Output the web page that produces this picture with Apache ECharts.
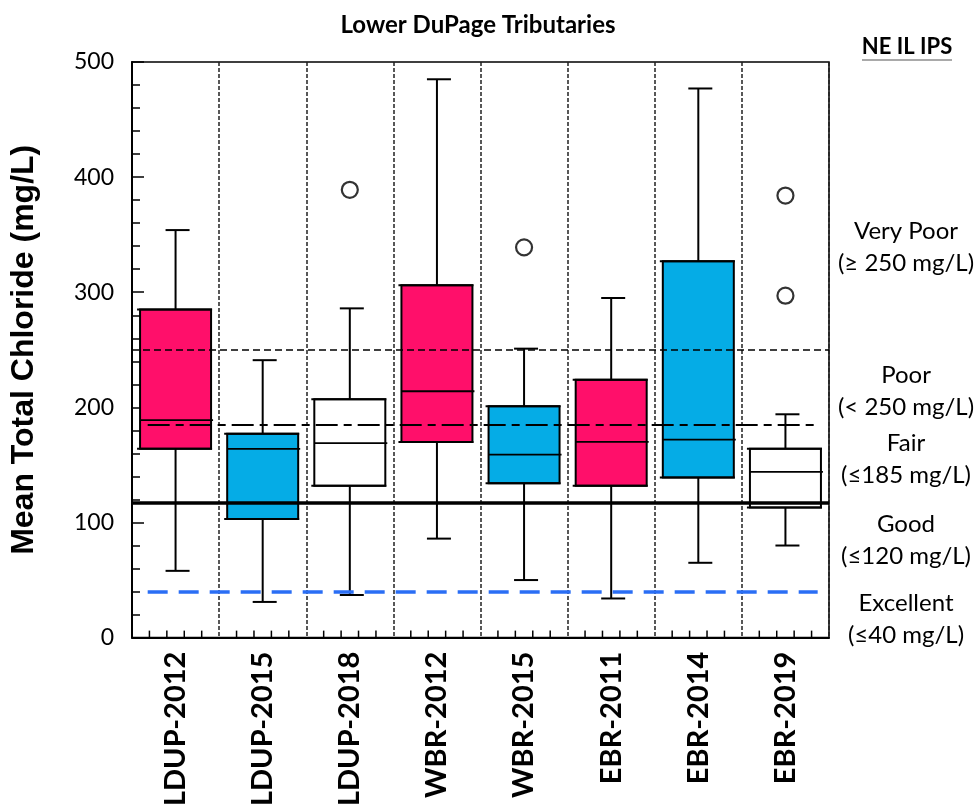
<!DOCTYPE html>
<html>
<head>
<meta charset="utf-8">
<script src="https://cdn.jsdelivr.net/npm/echarts@6/dist/echarts.min.js"></script>
<style>
html,body{margin:0;padding:0;background:#fff;}
#chart{width:977px;height:809px;}
</style>
</head>
<body>
<div id="chart"></div>
<script>
// ---- data ----
var categories = ['LDUP-2012','LDUP-2015','LDUP-2018','WBR-2012','WBR-2015','EBR-2011','EBR-2014','EBR-2019'];
var whiskerLow  = [58, 31, 37, 86, 50, 34, 65, 80];
var quartile1   = [164, 103, 132, 170, 134, 132, 139, 113];
var medians     = [189, 164, 169, 214, 159, 170, 172, 144];
var quartile3   = [285, 177, 207, 306, 201, 224, 327, 164];
var whiskerHigh = [354, 241, 286, 485, 251, 295, 477, 194];
var boxGroups   = ['pink','blue','white','pink','blue','pink','blue','white'];
var outliers    = [[2, 389], [4, 339], [7, 384], [7, 297]];
var yTicks      = [0, 100, 200, 300, 400, 500];
var refVeryPoor = 250;
var refFair     = 185;
var refGood     = 117;
var refExcellent= 40;

var groupColors = {pink:'#FF0F6A', blue:'#05ACE6', white:'#FFFFFF'};

var boxData = categories.map(function(c, i){
  return [i, whiskerLow[i], quartile1[i], medians[i], quartile3[i], whiskerHigh[i]];
});

var chart = echarts.init(document.getElementById('chart'), null, {renderer:'canvas'});

var font = 'Lato';

var option = {
  animation: false,
  backgroundColor: '#fff',
  grid: {left:132, right:148, top:62, bottom:171, show:true, borderColor:'#000', borderWidth:1.5, backgroundColor:'transparent'},
  xAxis: [
    {
      type:'category', data: categories, boundaryGap:true, position:'bottom',
      axisLine:{show:true, lineStyle:{color:'#000', width:2}},
      axisTick:{show:false},
      splitLine:{show:true, interval:0, lineStyle:{color:'#222', width:1.5, type:[4,2]}},
      axisLabel:{rotate:90, interval:0, margin:14, fontFamily:font, fontWeight:'bold', fontSize:29, color:'#000'}
    },
    {
      type:'value', min:0, max:8, interval:1, position:'bottom', show:false
    }
  ],
  yAxis: {
    type:'value', min:0, max:500, interval:100,
    name:'Mean Total Chloride (mg/L)', nameLocation:'middle', nameRotate:90, nameGap:92,
    nameTextStyle:{fontFamily:'Liberation Sans', fontWeight:'bold', fontSize:32, color:'#000'},
    axisLine:{show:true, lineStyle:{color:'#000', width:2}},
    axisTick:{show:true, inside:true, length:12, lineStyle:{color:'#000', width:1.5}},
    minorTick:{show:true, splitNumber:5, length:8, lineStyle:{color:'#000', width:1.5}},
    splitLine:{show:false},
    axisLabel:{margin:18, fontFamily:font, fontSize:23, color:'#000',
      formatter:function(v){ return yTicks.indexOf(v) >= 0 ? String(v) : ''; }}
  },
  series: [
    {
      type:'custom', name:'boxes', xAxisIndex:0, yAxisIndex:0, z:2,
      data: boxData,
      encode:{x:0, y:[1,2,3,4,5]},
      renderItem:function(params, api){
        var x = api.value(0);
        var lo = api.coord([x, api.value(1)]);
        var q1 = api.coord([x, api.value(2)]);
        var md = api.coord([x, api.value(3)]);
        var q3 = api.coord([x, api.value(4)]);
        var hi = api.coord([x, api.value(5)]);
        var base = api.coord([x, 0]);
        var band = api.size([1,0])[0];
        var bw = band*0.815;
        var cx = lo[0];
        var fill = groupColors[boxGroups[params.dataIndex]];
        var st = {stroke:'#000', lineWidth:2};
        var children = [
          {type:'line', shape:{x1:cx, y1:q3[1], x2:cx, y2:hi[1]}, style:st},
          {type:'line', shape:{x1:cx, y1:q1[1], x2:cx, y2:lo[1]}, style:st},
          {type:'line', shape:{x1:cx-10, y1:hi[1], x2:cx+14, y2:hi[1]}, style:st},
          {type:'line', shape:{x1:cx-10, y1:lo[1], x2:cx+14, y2:lo[1]}, style:st},
          {type:'rect', shape:{x:cx-bw/2, y:q3[1], width:bw, height:q1[1]-q3[1]}, style:{fill:fill, stroke:'#000', lineWidth:2}},
          {type:'line', shape:{x1:cx-bw/2-3, y1:q3[1], x2:cx+bw/2+1, y2:q3[1]}, style:st},
          {type:'line', shape:{x1:cx-bw/2-3, y1:q1[1], x2:cx+bw/2+1, y2:q1[1]}, style:st},
          {type:'line', shape:{x1:cx-bw/2, y1:md[1], x2:cx+bw/2+2, y2:md[1]}, style:{stroke:'#000', lineWidth:1.8}}
        ];
        // minor ticks of the category band (4 per band, inside)
        for (var k = 1; k <= 4; k++) {
          var tx = cx - band/2 + k*band/5;
          children.push({type:'line', shape:{x1:tx, y1:base[1], x2:tx, y2:base[1]-7}, style:{stroke:'#000', lineWidth:1.5}});
        }
        return {type:'group', children:children};
      }
    },
    {
      type:'scatter', name:'outliers', xAxisIndex:0, yAxisIndex:0, z:3,
      data: outliers, symbol:'circle', symbolSize:16,
      itemStyle:{color:'#fff', borderColor:'#000', borderWidth:2.2}
    },
    {
      type:'line', name:'refs', xAxisIndex:1, yAxisIndex:0, z:6, data:[],
      markLine:{
        silent:true, symbol:['none','none'], label:{show:false}, z:6,
        data:[
          [{coord:[0, refVeryPoor], lineStyle:{color:'#000', width:1.5, type:[7,4]}}, {coord:[8, refVeryPoor]}],
          [{coord:[0.18, refFair], lineStyle:{color:'#000', width:1.8, type:[22,6,8,6]}}, {coord:[7.87, refFair]}],
          [{coord:[0, refGood], lineStyle:{color:'#000', width:3.5, type:'solid'}}, {coord:[8, refGood]}],
          [{coord:[0.18, refExcellent], lineStyle:{color:'#2A6EF5', width:3.5, type:[20,11]}}, {coord:[7.87, refExcellent]}]
        ]
      }
    }
  ],
  graphic: [
    {type:'text', x:478, y:25, style:{text:'Lower DuPage Tributaries', font:'bold 24px Lato', fill:'#000', align:'center', verticalAlign:'middle'}},
    {type:'text', x:907, y:47, style:{text:'NE IL IPS', font:'bold 22px Lato', fill:'#000', align:'center', verticalAlign:'middle'}},
    {type:'line', shape:{x1:862, y1:60, x2:952, y2:60}, style:{stroke:'#555', lineWidth:1}},
    {type:'text', x:906, y:231, style:{text:'Very Poor', font:'24px Lato', fill:'#000', align:'center', verticalAlign:'middle'}},
    {type:'text', x:906, y:263, style:{text:'(\u2265 250 mg/L)', font:'24px Lato', fill:'#000', align:'center', verticalAlign:'middle'}},
    {type:'text', x:906, y:375, style:{text:'Poor', font:'24px Lato', fill:'#000', align:'center', verticalAlign:'middle'}},
    {type:'text', x:906, y:407, style:{text:'(< 250 mg/L)', font:'24px Lato', fill:'#000', align:'center', verticalAlign:'middle'}},
    {type:'text', x:906, y:443, style:{text:'Fair', font:'24px Lato', fill:'#000', align:'center', verticalAlign:'middle'}},
    {type:'text', x:906, y:475, style:{text:'(\u2264185 mg/L)', font:'24px Lato', fill:'#000', align:'center', verticalAlign:'middle'}},
    {type:'text', x:906, y:524, style:{text:'Good', font:'24px Lato', fill:'#000', align:'center', verticalAlign:'middle'}},
    {type:'text', x:906, y:556, style:{text:'(\u2264120 mg/L)', font:'24px Lato', fill:'#000', align:'center', verticalAlign:'middle'}},
    {type:'text', x:906, y:603, style:{text:'Excellent', font:'24px Lato', fill:'#000', align:'center', verticalAlign:'middle'}},
    {type:'text', x:906, y:635, style:{text:'(\u226440 mg/L)', font:'24px Lato', fill:'#000', align:'center', verticalAlign:'middle'}}
  ]
};
chart.setOption(option);
</script>
</body>
</html>
